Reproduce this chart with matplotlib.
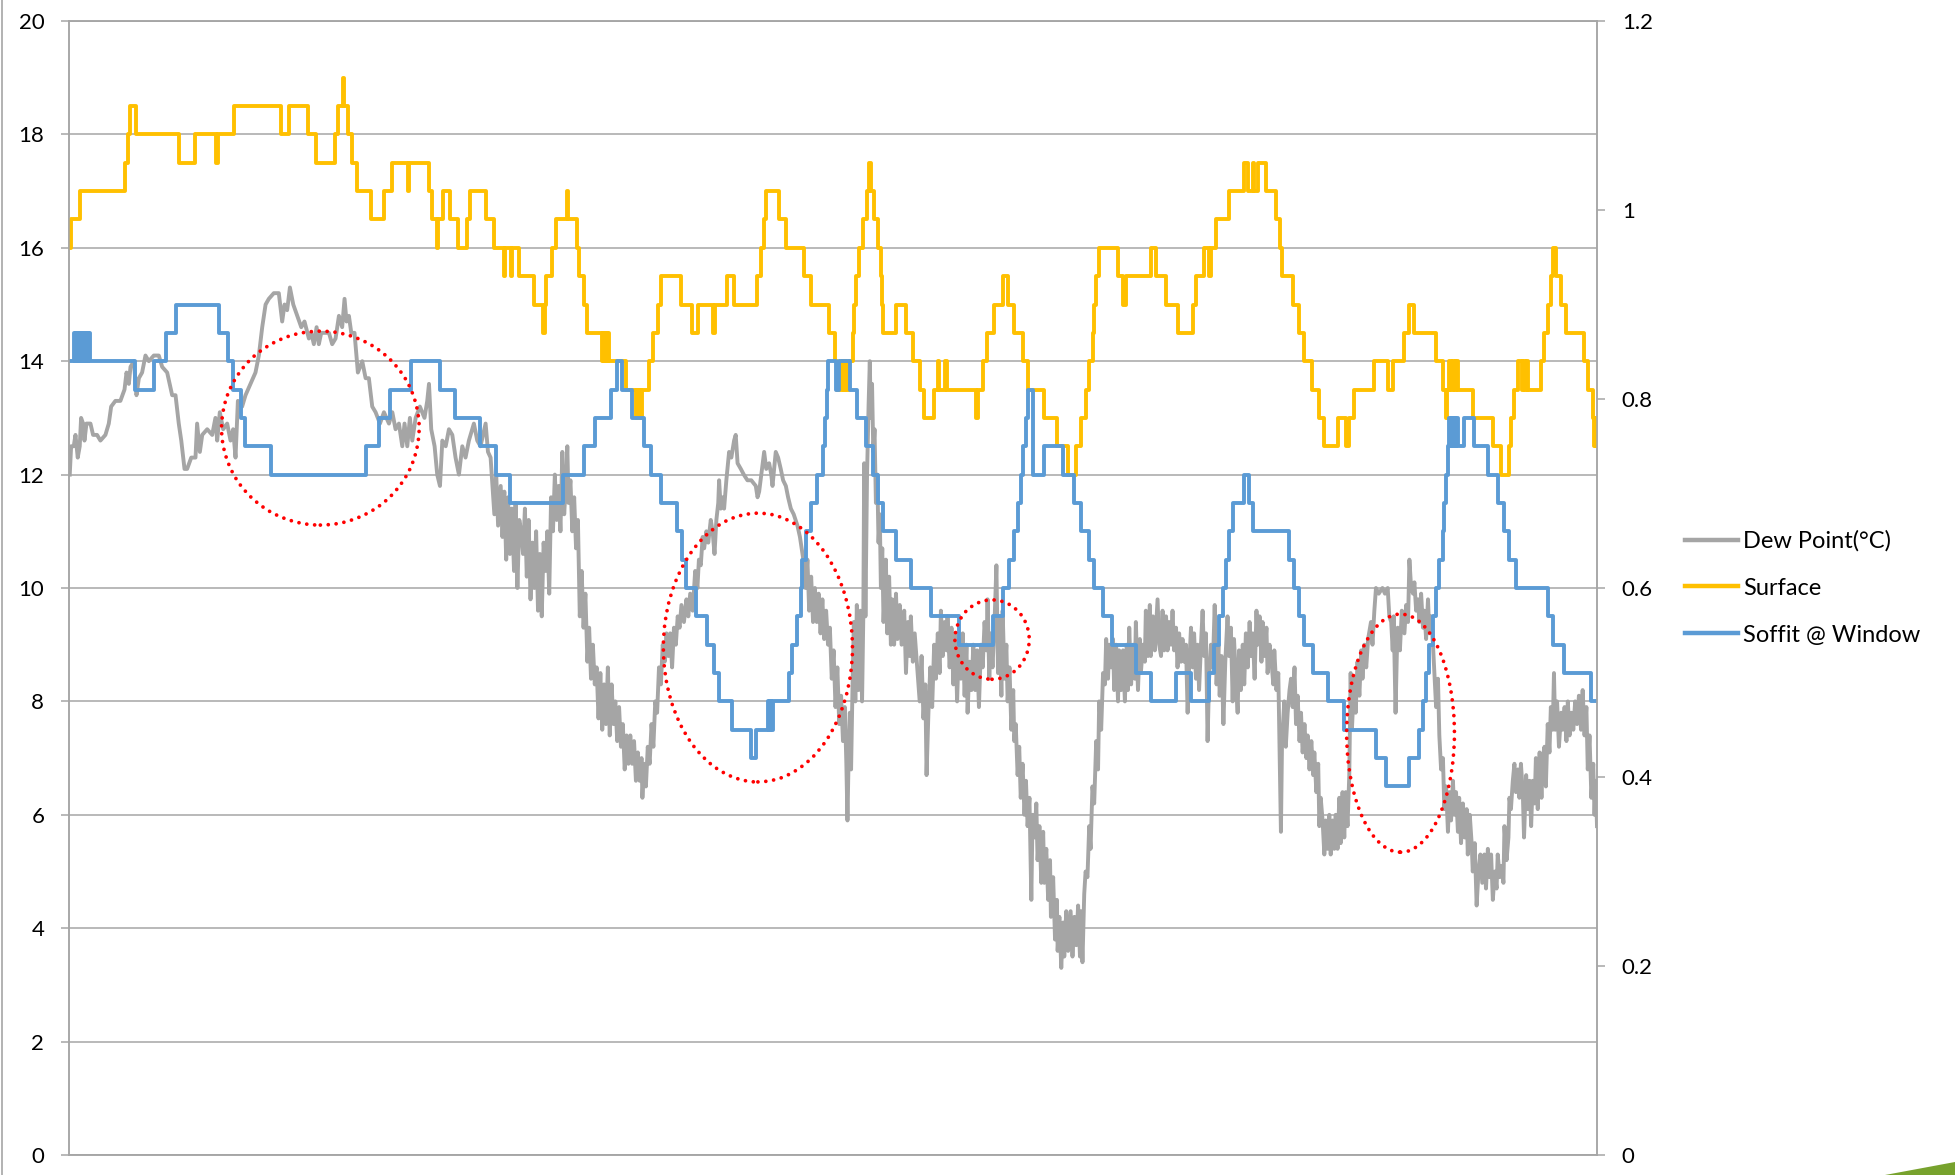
import matplotlib
matplotlib.use("Agg")
import matplotlib.pyplot as plt
from matplotlib.patches import Ellipse, Polygon
from matplotlib.lines import Line2D
from matplotlib.ticker import FuncFormatter

plt.rcParams['font.family'] = ['Lato', 'DejaVu Sans']

# ---------------- data (time index, temperature in degC) ----------------
dew_t_a = [55.6, 56.7, 58.8, 60.2, 62.0, 63.6, 64.7, 66.3, 67.4, 69.0,
           72.2, 74.3, 77.5, 80.2, 84.2, 86.9, 88.8, 92.2, 96.2, 99.5,
           101.1, 103.0, 104.3, 107.0, 109.1, 111.0, 113.6, 116.3, 119.0, 123.0,
           127.0, 129.7, 133.7, 137.7, 140.4, 143.0, 145.0, 147.6, 149.7, 153.0,
           156.4, 157.7, 159.9, 161.8, 165.8, 169.8, 172.4, 173.8, 175.9, 178.6,
           181.8, 184.5, 186.6, 188.5, 190.4, 193.8, 196.5, 200.5, 204.5, 207.2,
           209.9, 212.6, 215.2, 219.2, 223.2, 225.9, 227.8, 229.9, 232.1, 234.8,
           238.0, 241.2, 243.8, 247.3, 249.2, 251.3, 253.5, 255.3, 257.2, 260.7,
           263.4, 266.0, 268.7, 271.4, 274.0, 275.9, 277.5, 279.4, 281.3, 283.9,
           286.6, 290.1, 292.8, 295.4, 298.1, 300.8, 304.3, 307.5, 311.5, 314.2,
           316.8, 319.5, 322.2, 324.0, 326.2, 328.3, 330.2, 332.9, 336.3, 340.0,
           342.2, 343.6, 345.4, 348.1, 350.2, 352.4, 354.3, 357.0, 359.6, 362.3,
           364.9, 367.6, 370.3, 372.9, 375.6, 379.6, 382.3, 384.9, 389.0, 390.9,
           393.0]
dew_v_a = [12.0, 12.5, 12.5, 12.7, 12.3, 12.5, 13.0, 12.9, 12.6, 12.9,
           12.9, 12.7, 12.7, 12.6, 12.7, 12.9, 13.2, 13.3, 13.3, 13.5,
           13.8, 13.6, 13.9, 14.0, 13.4, 13.7, 13.8, 14.1, 14.0, 14.1,
           14.1, 13.9, 13.8, 13.4, 13.4, 12.9, 12.6, 12.1, 12.1, 12.3,
           12.3, 12.9, 12.4, 12.7, 12.8, 12.7, 13.0, 12.6, 13.1, 12.8,
           12.9, 12.6, 12.8, 12.3, 13.3, 13.2, 13.4, 13.6, 13.8, 14.1,
           14.6, 15.0, 15.1, 15.2, 15.2, 14.7, 15.0, 14.9, 15.3, 15.0,
           14.8, 14.6, 14.7, 14.4, 14.5, 14.3, 14.6, 14.3, 14.5, 14.5,
           14.5, 14.3, 14.4, 14.8, 14.6, 15.1, 14.7, 14.8, 14.5, 14.5,
           13.8, 14.0, 13.7, 13.7, 13.2, 13.1, 12.9, 13.1, 12.9, 13.1,
           12.8, 12.9, 12.5, 12.9, 12.5, 13.0, 12.6, 13.0, 13.2, 13.0,
           13.3, 13.6, 12.8, 12.5, 12.0, 11.8, 12.6, 12.5, 12.8, 12.7,
           12.3, 12.0, 12.5, 12.3, 12.6, 12.9, 12.6, 12.5, 12.9, 12.4,
           12.3]

dew_t_b = [396.0, 397.5, 399.0, 401.1, 402.5, 404.0, 405.5, 407.0, 408.5, 410.0,
           411.8, 413.0, 414.5, 416.0, 417.5, 419.0, 420.5, 422.0, 423.5, 425.0,
           426.5, 428.0, 429.5, 431.0, 432.5, 434.0, 435.5, 437.0, 438.5, 440.0,
           441.5, 443.0, 444.5, 446.0, 447.5, 449.0, 450.5, 452.0, 453.5, 454.5,
           455.5, 457.0, 458.5, 460.0, 461.5, 463.0, 464.5, 466.0]
dew_v_b = [11.3, 12.0, 11.1, 11.8, 10.9, 11.7, 10.5, 11.6, 10.6, 11.4,
           10.3, 11.5, 10.0, 11.2, 11.0, 10.6, 11.4, 10.2, 11.2, 9.8,
           10.8, 10.0, 11.0, 9.6, 10.6, 9.5, 10.8, 10.3, 11.0, 9.9,
           11.6, 11.0, 12.0, 11.2, 11.8, 11.0, 12.4, 11.3, 11.9, 12.5,
           11.5, 11.9, 11.0, 11.6, 10.7, 11.2, 9.5, 10.3]

dew_t_c = [467.5, 469.0, 470.6, 472.0, 473.5, 475.0, 476.5, 478.0, 479.5, 481.0,
           482.5, 484.0, 485.5, 487.0, 488.5, 490.0, 491.5, 493.0, 494.5, 496.0,
           497.5, 499.0, 500.5, 502.0, 503.5, 505.0, 506.5, 508.0, 509.5, 511.0,
           512.5, 514.0, 514.7, 516.0, 517.5, 519.0, 520.5, 522.0, 523.5, 525.0,
           526.5, 528.0, 529.5, 531.0, 532.5, 534.0, 535.5, 537.0, 538.5, 540.0,
           541.5, 543.0, 544.5, 546.0, 548.0, 550.0, 551.5, 553.0, 555.0, 557.0,
           558.8, 560.0, 561.5, 563.0, 564.2, 566.0, 567.5, 569.5, 571.0, 572.5,
           574.0, 575.5, 576.2, 577.5, 579.0, 580.2, 582.0, 584.2, 586.0, 588.2,
           589.5, 591.0, 593.6, 596.0, 598.9, 602.0, 605.6, 607.0, 608.3, 610.0,
           612.3, 614.0, 616.3, 618.0, 619.0, 621.6, 623.5, 625.6, 627.5, 629.7,
           631.5, 633.7, 636.0, 639.0, 641.0, 644.4]
dew_v_c = [9.3, 9.9, 8.7, 9.3, 8.4, 9.0, 8.3, 8.6, 7.7, 8.5,
           7.5, 8.3, 7.6, 8.6, 7.4, 8.3, 7.6, 8.0, 7.3, 7.9,
           7.2, 7.6, 6.8, 7.4, 6.9, 7.4, 6.9, 7.3, 6.6, 7.1,
           6.6, 7.0, 6.3, 6.9, 6.5, 7.2, 6.9, 7.6, 7.2, 8.0,
           7.8, 8.6, 8.3, 9.0, 8.7, 9.2, 8.8, 9.2, 8.6, 9.3,
           9.0, 9.5, 9.3, 9.7, 9.4, 9.8, 9.5, 9.9, 9.6, 10.3,
           10.0, 10.5, 10.4, 10.9, 10.7, 11.0, 10.8, 11.2, 11.0, 10.6,
           11.2, 11.5, 11.9, 11.4, 11.6, 11.4, 11.9, 12.4, 12.3, 12.6,
           12.7, 12.2, 12.1, 12.0, 11.9, 11.9, 11.8, 11.6, 11.7, 12.0,
           12.4, 12.1, 12.2, 12.0, 11.8, 12.4, 12.3, 12.1, 11.9, 11.8,
           11.6, 11.4, 11.3, 11.1, 10.9, 10.4]

dew_t_d = [645.5, 647.0, 648.4, 650.0, 651.5, 653.0, 654.5, 656.0, 657.5, 659.0,
           660.4, 662.0, 663.5, 665.0, 666.5, 668.0, 669.5, 671.0, 672.5, 674.0,
           675.5, 677.0, 678.2, 679.1, 680.0, 681.0, 682.0, 683.1, 684.2, 685.4,
           686.6, 688.0, 689.5, 690.8, 691.8, 692.5, 693.5, 694.8, 696.0, 697.0,
           697.8, 698.8, 699.8, 700.8, 701.9, 703.0, 704.0, 705.0, 705.9, 707.0,
           708.0, 709.9, 711.0, 712.5, 713.9, 715.0, 716.5, 718.0, 719.2, 721.0,
           722.5, 724.6, 726.0, 727.5, 729.0, 729.9, 731.5, 733.0, 735.3, 737.0,
           738.5, 740.0, 741.5, 742.5, 744.0, 745.5, 747.0, 748.6, 750.0, 751.5,
           753.0, 754.0, 755.5, 757.0, 758.5, 759.3, 761.0, 762.5, 764.0, 765.5,
           767.0, 768.5, 770.0, 771.5, 773.0, 774.5, 775.4, 777.0, 778.5, 780.0,
           781.5, 783.0, 784.5, 786.1, 787.5, 789.0, 790.5, 791.4, 792.8, 794.0,
           795.4, 797.0, 798.5, 799.8, 801.0, 802.5, 803.5, 805.0, 806.5, 807.5,
           809.0, 810.5, 812.0, 812.8, 814.0, 815.5, 816.8, 818.0, 819.5, 821.0,
           822.2, 823.5, 825.0, 826.5, 827.5, 829.0, 830.5, 831.5, 833.0, 834.5,
           836.0, 836.9, 838.5, 840.0, 841.5, 842.2, 844.0, 845.5, 847.0, 847.6,
           849.0, 850.5, 852.0, 852.9, 854.5, 856.0, 858.0, 859.5, 861.0, 862.5,
           864.0, 865.5]
dew_v_d = [10.0, 10.5, 9.6, 10.2, 9.4, 10.0, 9.4, 9.9, 9.2, 9.8,
           9.1, 9.6, 9.0, 9.3, 8.4, 8.9, 7.9, 8.6, 7.6, 8.1,
           7.3, 7.9, 6.9, 5.9, 7.0, 7.8, 6.8, 8.2, 9.4, 8.0,
           9.7, 8.2, 9.6, 8.0, 9.5, 12.2, 9.5, 12.0, 13.2, 14.0,
           13.0, 13.6, 12.4, 12.8, 11.5, 12.0, 10.8, 11.3, 10.0, 10.7,
           9.4, 10.5, 9.2, 10.2, 9.0, 9.8, 9.0, 9.9, 9.1, 9.7,
           9.0, 9.6, 8.5, 9.4, 8.8, 9.5, 8.7, 9.2, 8.5, 8.0,
           8.8, 7.7, 8.3, 6.7, 7.8, 8.6, 7.9, 9.0, 8.4, 9.2,
           8.5, 9.6, 8.8, 9.4, 8.9, 9.5, 8.6, 9.3, 8.3, 9.2,
           8.0, 9.1, 8.4, 9.2, 8.1, 9.0, 7.8, 8.7, 8.2, 9.0,
           8.2, 8.9, 7.9, 9.0, 8.6, 9.4, 8.9, 9.8, 8.4, 9.2,
           8.6, 9.4, 10.4, 8.5, 9.5, 8.1, 9.6, 8.4, 9.0, 8.0,
           8.6, 7.5, 8.2, 7.3, 7.6, 6.7, 7.2, 6.3, 6.9, 6.0,
           6.6, 5.8, 6.3, 4.5, 6.0, 5.6, 6.2, 5.2, 5.8, 4.8,
           5.7, 4.8, 5.4, 4.5, 5.2, 4.2, 4.9, 3.8, 4.5, 3.6,
           4.2, 3.3, 4.1, 3.5, 4.3, 3.6, 4.3, 3.5, 4.2, 3.7,
           4.4, 3.5]

dew_t_e = [866.3, 867.5, 868.9, 870.0, 871.5, 872.9, 874.0, 875.5, 876.9, 878.5,
           880.0, 880.9, 882.5, 884.0, 885.5, 886.5, 888.0, 888.9, 890.5, 892.0,
           892.9, 894.5, 896.0, 896.9, 898.5, 900.0, 901.5, 903.0, 904.0, 905.0,
           906.5, 908.0, 909.5, 910.3, 912.0, 913.5, 914.3, 916.0, 917.5, 918.3,
           920.0, 921.5, 922.3, 924.0, 925.5, 927.7, 929.0, 930.5, 931.7, 933.0,
           934.5, 935.7, 937.0, 938.5, 939.7, 941.0, 942.5, 943.7, 945.0, 946.5,
           947.7, 949.0, 950.5, 951.8, 953.0, 954.5, 955.8, 957.0, 958.5, 959.8,
           961.0, 962.5, 963.8, 965.0, 966.5, 967.8, 969.0, 970.5, 972.0, 973.5,
           975.0, 976.5, 977.5, 979.0, 980.5, 982.0, 983.8, 985.0, 986.5, 987.9,
           989.0, 990.5, 991.9, 993.0, 994.5, 996.0, 997.2, 998.5, 1000.0, 1001.5,
           1002.6, 1004.0, 1005.5, 1007.0, 1007.9, 1009.5, 1011.0, 1011.9, 1013.5, 1015.0,
           1015.9, 1017.5, 1019.0, 1020.5, 1021.3, 1023.0, 1024.5, 1026.6, 1027.5, 1029.3,
           1030.5, 1032.0, 1033.5, 1034.7, 1036.0, 1037.5, 1038.7, 1040.0, 1041.5, 1042.7,
           1044.0, 1045.5, 1047.0, 1048.0, 1049.5, 1051.0, 1052.5, 1053.4, 1055.0, 1056.5,
           1057.4, 1058.5, 1060.0, 1061.4, 1062.5, 1064.0, 1065.4, 1066.5, 1068.0, 1069.4,
           1070.5, 1072.0, 1073.4, 1074.5, 1076.0, 1077.4, 1078.5, 1080.0, 1081.4, 1082.5,
           1083.5, 1085.4, 1086.5, 1088.0, 1089.5, 1091.0, 1092.0, 1093.5, 1095.0, 1096.5,
           1098.8, 1100.0, 1101.5, 1102.8, 1105.0, 1108.0, 1110.0, 1112.2, 1113.5, 1115.0,
           1116.2, 1117.0, 1118.5, 1119.5, 1120.2, 1122.0, 1123.5, 1125.6, 1127.0, 1128.5,
           1129.6, 1131.0, 1132.5, 1133.6, 1135.0, 1136.5, 1137.6, 1139.0, 1140.5, 1141.6,
           1143.0, 1144.5, 1145.6, 1147.0, 1148.5, 1149.6, 1151.0, 1152.5, 1153.6, 1155.0,
           1156.5, 1157.6, 1159.0, 1160.5, 1161.7, 1163.0, 1164.5, 1165.7, 1167.0, 1168.5,
           1169.5, 1171.0, 1172.5, 1174.0, 1175.5, 1176.4, 1178.0, 1179.5, 1180.4, 1182.0,
           1183.5, 1185.0, 1186.5, 1188.0, 1189.7, 1191.0, 1192.5, 1194.0, 1195.1, 1196.5,
           1198.0, 1199.5, 1200.4, 1202.0, 1203.5, 1205.0, 1205.8, 1207.5, 1209.0, 1209.8,
           1211.0, 1212.5, 1213.8, 1215.0, 1216.5, 1217.8, 1219.0, 1220.5, 1221.5, 1223.2,
           1224.5, 1226.0, 1227.2, 1228.5, 1230.0, 1231.0, 1232.5, 1234.0, 1235.5, 1236.5,
           1237.9, 1239.0, 1240.5, 1241.9, 1243.0, 1244.5, 1245.5, 1246.5, 1248.0, 1249.5,
           1251.2, 1252.5, 1254.0, 1255.5, 1256.6, 1258.0, 1259.5, 1261.0, 1262.5, 1264.0,
           1265.5, 1267.2, 1268.5, 1270.0, 1271.5, 1272.6, 1274.0, 1275.5, 1277.0, 1278.0,
           1279.0, 1280.0]
dew_v_e = [4.3, 3.4, 4.6, 5.0, 4.9, 5.8, 5.4, 6.5, 6.2, 7.3,
           6.8, 8.0, 7.5, 8.5, 8.3, 9.1, 8.4, 9.0, 8.6, 9.1,
           8.2, 9.0, 8.0, 8.9, 8.2, 8.9, 8.0, 9.0, 8.2, 9.3,
           8.3, 9.0, 8.4, 9.4, 8.2, 9.1, 8.5, 9.0, 8.7, 9.6,
           8.8, 9.7, 8.8, 9.5, 8.9, 9.8, 9.0, 8.8, 9.6, 8.9,
           9.5, 8.9, 9.4, 9.0, 9.6, 8.9, 9.3, 8.6, 9.2, 8.7,
           9.1, 8.7, 9.0, 7.8, 8.6, 9.3, 8.6, 9.2, 8.4, 9.0,
           8.2, 9.0, 9.6, 8.8, 9.2, 7.3, 8.4, 9.0, 8.6, 9.7,
           8.3, 9.0, 8.1, 8.8, 7.6, 8.7, 9.5, 8.8, 9.3, 8.0,
           9.1, 8.4, 7.8, 8.9, 8.2, 9.0, 8.3, 9.2, 8.6, 9.4,
           8.8, 9.2, 8.4, 9.6, 9.0, 9.5, 8.7, 9.4, 8.8, 9.3,
           8.5, 9.0, 8.7, 8.3, 8.9, 8.2, 8.5, 5.7, 7.3, 8.0,
           7.2, 7.8, 8.2, 8.4, 7.9, 8.6, 7.6, 8.1, 7.3, 7.8,
           7.1, 7.6, 7.0, 7.4, 6.8, 7.3, 6.7, 7.1, 6.4, 6.9,
           5.8, 6.3, 5.9, 5.3, 5.9, 5.4, 6.0, 5.3, 5.9, 5.4,
           6.0, 5.4, 6.3, 5.5, 6.4, 5.6, 6.4, 5.8, 6.7, 8.5,
           7.5, 8.4, 7.8, 8.7, 8.1, 8.9, 8.4, 9.0, 8.6, 9.1,
           9.4, 9.0, 9.6, 10.0, 9.9, 10.0, 9.9, 10.0, 9.5, 9.4,
           8.9, 9.5, 7.8, 8.8, 9.3, 8.9, 9.6, 9.2, 9.7, 9.4,
           10.5, 10.0, 9.9, 10.1, 9.6, 9.8, 9.4, 9.9, 9.3, 9.6,
           9.1, 9.8, 9.2, 9.5, 9.0, 8.5, 7.9, 8.4, 7.4, 6.8,
           7.0, 6.1, 6.5, 5.7, 6.4, 5.9, 6.6, 6.0, 6.4, 5.7,
           6.3, 5.5, 6.2, 5.6, 6.1, 5.3, 6.0, 5.5, 5.0, 5.5,
           4.4, 5.0, 5.3, 4.8, 5.3, 4.7, 5.4, 4.9, 5.3, 4.5,
           5.0, 4.7, 5.3, 4.9, 5.1, 4.8, 5.8, 5.2, 5.6, 6.3,
           6.1, 6.6, 6.9, 6.4, 6.8, 6.3, 6.9, 6.4, 5.6, 6.7,
           6.1, 6.6, 5.8, 6.6, 6.2, 7.0, 6.1, 7.1, 6.3, 7.0,
           7.2, 6.5, 7.6, 7.1, 7.9, 7.5, 8.5, 7.5, 8.0, 7.2,
           7.8, 7.5, 7.9, 7.3, 8.0, 7.4, 7.8, 7.5, 8.0, 7.6,
           8.1, 7.5, 8.2, 7.4, 7.9, 6.8, 7.4, 6.3, 6.9, 6.0,
           6.6, 5.8]

surf_t = [55, 56.5, 64, 100, 102, 104, 109, 143, 156, 173,
          174.5, 187, 225, 231, 247, 253, 268, 271, 274.5, 275.5,
          279, 282, 286, 297, 307.5, 314, 326.5, 327.5, 343.6, 346,
          350, 351, 355, 360.4, 367, 374, 376.5, 389, 395.7, 403.5,
          404.5, 409.5, 410.5, 415.8, 427.8, 435.3, 436.3, 437.2, 442.5, 445.2,
          454.3, 455.0, 462, 464, 468, 470.6, 482.6, 483.5, 484.3, 485.2,
          486, 487, 488, 501.3, 509.3, 510.3, 511.2, 512.2, 513.2, 514.7,
          520, 523.5, 527.2, 529.4, 545.4, 554.8, 559.3, 571, 572.5, 582.3,
          588.2, 606.9, 610.1, 612, 613.6, 624.3, 629.7, 644.4, 650.2, 664.4,
          669.2, 671.1, 675, 676, 677, 678, 680.4, 683.9, 684.5, 685.8,
          688.5, 691.9, 694.6, 696.5, 697.8, 700.5, 703.2, 705.9, 706.5, 707.2,
          717.9, 725.9, 731.3, 737.4, 740.6, 748.6, 751.3, 752.5, 757.5, 759,
          782, 784, 787.4, 790.9, 796.8, 804, 807.4, 812.8, 819.5, 823.5,
          836.9, 847, 855.6, 862.3, 866.3, 870.2, 872.9, 875.6, 876.9, 878.2,
          880.9, 895.6, 899.6, 902.3, 922.3, 926.4, 934.4, 943.7, 955.8, 958.4,
          965.1, 969.1, 970.5, 974.5, 985.2, 997.2, 999.9, 1003.9, 1005.2, 1007.9,
          1014.6, 1022.6, 1026.1, 1027.4, 1036.5, 1041.3, 1044.8, 1051.2, 1057.4, 1060.8,
          1072.1, 1078.8, 1081.4, 1085.4, 1101.5, 1112.2, 1116.2, 1125, 1129.6, 1133,
          1150.9, 1156.3, 1159, 1160, 1161.7, 1163, 1164.5, 1166, 1167, 1168.3,
          1180.4, 1196.4, 1203.1, 1209.8, 1211.1, 1213.3, 1216.5, 1220, 1221, 1222.5,
          1223.5, 1224.5, 1235.2, 1237.8, 1240.5, 1243.2, 1244.5, 1247.2, 1251.2, 1255.2,
          1269.9, 1272.6, 1276.6, 1277.5, 1278.5, 1279.3, 1280]
surf_v = [16.0, 16.5, 17.0, 17.5, 18.0, 18.5, 18.0, 17.5, 18.0, 17.5,
          18.0, 18.5, 18.0, 18.5, 18.0, 17.5, 18.0, 18.5, 19.0, 18.5,
          18.0, 17.5, 17.0, 16.5, 17.0, 17.5, 17.0, 17.5, 17.0, 16.5,
          16.0, 16.5, 17.0, 16.5, 16.0, 16.5, 17.0, 16.5, 16.0, 15.5,
          16.0, 15.5, 16.0, 15.5, 15.0, 14.5, 15.0, 15.5, 16.0, 16.5,
          17.0, 16.5, 16.0, 15.5, 15.0, 14.5, 14.0, 14.5, 14.0, 14.5,
          14.0, 14.5, 14.0, 13.5, 13.0, 13.5, 13.0, 13.5, 13.0, 13.5,
          14.0, 14.5, 15.0, 15.5, 15.0, 14.5, 15.0, 14.5, 15.0, 15.5,
          15.0, 15.5, 16.0, 16.5, 17.0, 16.5, 16.0, 15.5, 15.0, 14.5,
          14.0, 13.5, 14.0, 13.5, 14.0, 13.5, 14.0, 14.5, 15.0, 15.5,
          16.0, 16.5, 17.0, 17.5, 17.0, 16.5, 16.0, 15.5, 15.0, 14.5,
          15.0, 14.5, 14.0, 13.5, 13.0, 13.5, 14.0, 13.5, 14.0, 13.5,
          13.0, 13.5, 14.0, 14.5, 15.0, 15.5, 15.0, 14.5, 14.0, 13.5,
          13.0, 12.5, 12.0, 12.5, 13.0, 13.5, 14.0, 14.5, 15.0, 15.5,
          16.0, 15.5, 15.0, 15.5, 16.0, 15.5, 15.0, 14.5, 15.0, 15.5,
          16.0, 15.5, 16.0, 16.5, 17.0, 17.5, 17.0, 17.5, 17.0, 17.5,
          17.0, 16.5, 16.0, 15.5, 15.0, 14.5, 14.0, 13.5, 13.0, 12.5,
          13.0, 12.5, 13.0, 13.5, 14.0, 13.5, 14.0, 14.5, 15.0, 14.5,
          14.0, 13.5, 13.0, 13.5, 14.0, 13.5, 14.0, 13.5, 14.0, 13.5,
          13.0, 12.5, 12.0, 12.5, 13.0, 13.5, 14.0, 13.5, 14.0, 13.5,
          14.0, 13.5, 14.0, 14.5, 15.0, 15.5, 16.0, 15.5, 15.0, 14.5,
          14.0, 13.5, 13.0, 12.5, 13.0, 12.5, 12.5]

soff_t = [55, 58.8, 60, 60.8, 62, 62.8, 64, 64.8, 66, 66.8,
          68, 68.8, 70, 70.5, 71.6, 108.3, 123.0, 133.1, 140.4, 175.1,
          182.6, 186.6, 192.5, 196.5, 217.1, 292.8, 303.4, 312.3, 328.8, 352.4,
          364.1, 384.5, 397.0, 408.5, 451.3, 467.9, 476.5, 489.3, 494.6, 498.6,
          506.7, 516.0, 521.4, 529.4, 542.8, 546.8, 549.4, 557.5, 566.8, 572.2,
          576.2, 586.9, 601.6, 605.6, 615, 616, 617, 618, 619, 632.3,
          635, 639, 641.7, 643, 645.7, 649.7, 654.5, 659.1, 661, 662.5,
          663.1, 669.8, 672.4, 681.3, 687.1, 693.8, 699.2, 703.2, 707.2, 717.9,
          729.9, 746, 768.7, 795.4, 803.5, 808.8, 812.8, 815.5, 818.2, 820,
          822, 823.5, 827.5, 837.0, 851.6, 861.0, 866.3, 873, 876.9, 883.6,
          891, 910.3, 922.3, 942.4, 954.4, 969.1, 973.2, 977.2, 979.8, 982.5,
          985.2, 987.9, 997.2, 1001.2, 1003.9, 1033.3, 1037.3, 1041.3, 1045.3, 1052.0,
          1064.1, 1077.4, 1102.8, 1110.8, 1129.6, 1137.6, 1140.3, 1142.9, 1145.6, 1148.3,
          1150.9, 1153.6, 1156.3, 1157.6, 1159.0, 1160.3, 1161.7, 1162.8, 1163.6, 1164.6,
          1165.4, 1166.4, 1167.2, 1168.3, 1173.1, 1181.7, 1192.4, 1200.4, 1205.8, 1209.8,
          1215.1, 1240.5, 1244.5, 1253.9, 1275.3, 1280]
soff_v = [14.0, 14.5, 14.0, 14.5, 14.0, 14.5, 14.0, 14.5, 14.0, 14.5,
          14.0, 14.5, 14.0, 14.5, 14.0, 13.5, 14.0, 14.5, 15.0, 14.5,
          14.0, 13.5, 13.0, 12.5, 12.0, 12.5, 13.0, 13.5, 14.0, 13.5,
          13.0, 12.5, 12.0, 11.5, 12.0, 12.5, 13.0, 13.5, 14.0, 13.5,
          13.0, 12.5, 12.0, 11.5, 11.0, 10.5, 10.0, 9.5, 9.0, 8.5,
          8.0, 7.5, 7.0, 7.5, 8.0, 7.5, 8.0, 7.5, 8.0, 8.5,
          9.0, 9.5, 10.0, 10.5, 11.0, 11.5, 12.0, 12.5, 13.0, 13.5,
          14.0, 13.5, 14.0, 13.5, 13.0, 12.5, 12.0, 11.5, 11.0, 10.5,
          10.0, 9.5, 9.0, 9.5, 10.0, 10.5, 11.0, 11.5, 12.0, 12.5,
          13.0, 13.5, 12.0, 12.5, 12.0, 11.5, 11.0, 10.5, 10.0, 9.5,
          9.0, 8.5, 8.0, 8.5, 8.0, 8.5, 9.0, 9.5, 10.0, 10.5,
          11.0, 11.5, 12.0, 11.5, 11.0, 10.5, 10.0, 9.5, 9.0, 8.5,
          8.0, 7.5, 7.0, 6.5, 7.0, 7.5, 8.0, 8.5, 9.0, 9.5,
          10.0, 10.5, 11.0, 11.5, 12.0, 12.5, 13.0, 12.5, 13.0, 12.5,
          13.0, 12.5, 13.0, 12.5, 13.0, 12.5, 12.0, 11.5, 11.0, 10.5,
          10.0, 9.5, 9.0, 8.5, 8.0, 8.0]

series_labels = ["Dew Point(°C)", "Surface", "Soffit @ Window"]
left_ticks = [0, 2, 4, 6, 8, 10, 12, 14, 16, 18, 20]
right_ticks = [0, 0.2, 0.4, 0.6, 0.8, 1.0, 1.2]

# red dotted annotation ellipses: centre (t, degC), half-width (t), half-height (degC)
ell_cx = [256.5, 607.3, 795.0, 1122.5]
ell_cy = [12.82, 8.95, 9.09, 7.44]
ell_rx = [79.2, 75.8, 29.8, 43.2]
ell_ry = [1.71, 2.37, 0.70, 2.10]

# ---------------- figure ----------------
W, H = 1955, 1175
fig = plt.figure(figsize=(W / 100, H / 100), dpi=100)
fig.patch.set_facecolor('white')
ax = fig.add_axes([69 / W, 20 / H, 1528 / W, 1134 / H])

GRAY, YELLOW, BLUE = '#A5A5A5', '#FFC000', '#5B9BD5'
AXC = '#A6A6A6'
LW = 2.8

dew_t = dew_t_a + dew_t_b + dew_t_c + dew_t_d + dew_t_e
dew_v = dew_v_a + dew_v_b + dew_v_c + dew_v_d + dew_v_e
n = min(len(dew_t), len(dew_v))
ax.plot(dew_t[:n], dew_v[:n], color=GRAY, lw=LW, solid_joinstyle='round', zorder=3)
ax.step(surf_t, surf_v, where='post', color=YELLOW, lw=LW, zorder=4)
ax.step(soff_t, soff_v, where='post', color=BLUE, lw=LW, zorder=5)

for cx, cy, rx, ry in zip(ell_cx, ell_cy, ell_rx, ell_ry):
    e = Ellipse((cx, cy), 2 * rx, 2 * ry, fill=False, edgecolor='#FF0000',
                lw=2.7, linestyle=(0, (0.01, 2.1)), capstyle='round', zorder=6)
    ax.add_patch(e)

ax.set_xlim(55, 1280)
ax.set_ylim(0, 20)
ax.set_xticks([])
ax.set_yticks(left_ticks)
ax.yaxis.grid(True, color=AXC, lw=1.1)
ax.set_axisbelow(True)
for s in ax.spines.values():
    s.set_color(AXC)
    s.set_linewidth(1.1)
ax.tick_params(axis='y', length=5.8, width=1.1, color=AXC, pad=12,
               labelsize=16, labelcolor='black')

ax2 = ax.twinx()
ax2.set_ylim(0, 1.2)
ax2.set_yticks(right_ticks)
ax2.yaxis.set_major_formatter(FuncFormatter(lambda v, p: f"{v:g}"))
for s in ax2.spines.values():
    s.set_color(AXC)
    s.set_linewidth(1.1)
ax2.tick_params(axis='y', length=5.8, width=1.1, color=AXC, pad=12,
                labelsize=16, labelcolor='black')

handles = [Line2D([], [], color=c, lw=3.2) for c in (GRAY, YELLOW, BLUE)]
fig.legend(handles, series_labels, loc='center left',
           bbox_to_anchor=(1685 / W, 1 - 588 / H), frameon=False, fontsize=17,
           handlelength=2.25, handletextpad=0.22, labelspacing=1.1,
           borderpad=0, borderaxespad=0)

# slide decorations: left frame line and green corner wedge
fig.add_artist(Line2D([1.5 / W, 1.5 / W], [0, 1], color=AXC, lw=1.2,
                      transform=fig.transFigure))
fig.add_artist(Polygon([(1885 / W, 0), (1, 13 / H), (1, 0)], closed=True,
                       transform=fig.transFigure, facecolor='#77A22D',
                       edgecolor='none'))

fig.savefig('out.png', dpi=100)
